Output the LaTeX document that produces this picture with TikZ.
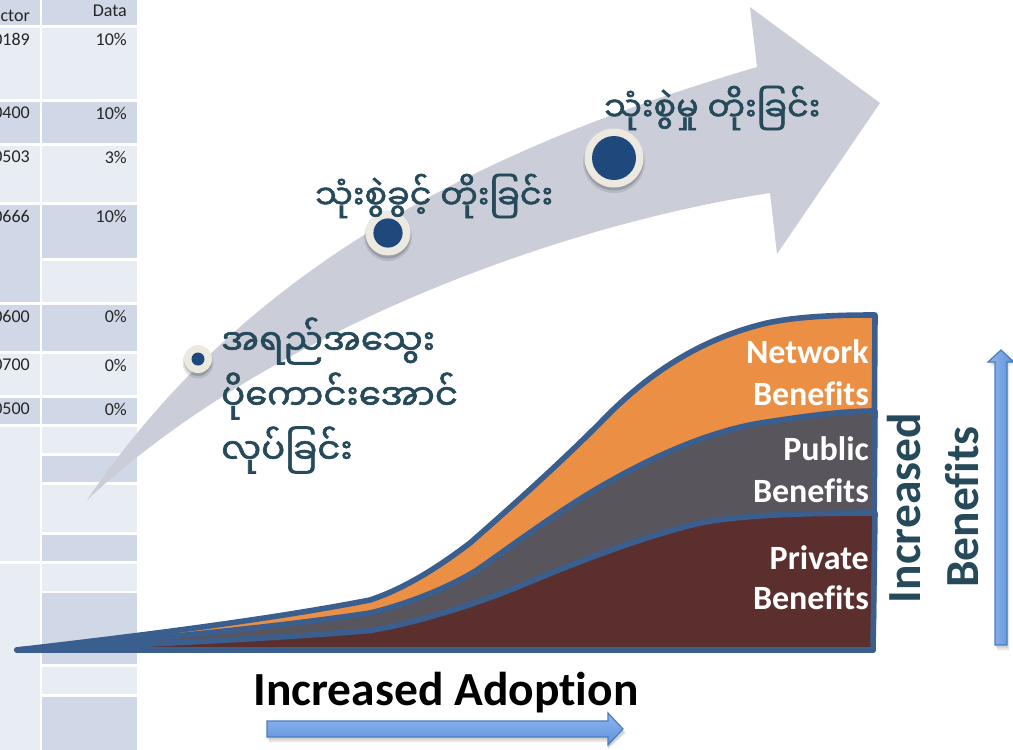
\documentclass[tikz,border=0pt]{standalone}
\usepackage{fontspec}
\setmainfont{Carlito}[Ligatures={NoCommon,NoRare,NoDiscretionary}]
\newfontfamily\myan[Script=Myanmar,FakeBold=1.8]{Noto Sans Myanmar UI}
\usetikzlibrary{arrows.meta}
\definecolor{cellL}{HTML}{E8EDF4}
\definecolor{cellD}{HTML}{D0D8E8}
\definecolor{arrowgray}{HTML}{CBCED9}
\definecolor{inkteal}{HTML}{264A5A}
\definecolor{bulletout}{HTML}{ECEAE0}
\definecolor{bulletin}{HTML}{1F497D}
\definecolor{edgeblue}{HTML}{3A5F8F}
\definecolor{orangeL}{HTML}{EB8F45}
\definecolor{grayL}{HTML}{58555C}
\definecolor{maroonL}{HTML}{5C2F2F}
\definecolor{arrowtop}{HTML}{8FB6EC}
\definecolor{arrowbot}{HTML}{5E92DC}
\definecolor{arrowedge}{HTML}{4A7EBB}
\tikzset{
  myantext/.style={inner sep=0pt,text=inkteal,font=\myan\fontsize{35.5}{36}\selectfont,anchor=west},
  myansmall/.style={myantext,font=\myan\fontsize{33.5}{34}\selectfont},
  whitelabel/.style={inner sep=0pt,text=white,font=\bfseries\fontsize{34}{34}\selectfont,anchor=east},
  axislabel/.style={inner sep=0pt,font=\bfseries\fontsize{47.5}{47.5}\selectfont},
  celltext/.style={inner sep=0pt,text=black!85,font=\fontsize{18}{18}\selectfont,anchor=east},
  layer/.style={draw=edgeblue,line width=5.6pt,line join=round,line cap=round},
  bigarrow/.style={draw=arrowedge,line width=1.2pt,line join=miter},
  softshadow/.style={black,opacity=.09},
}
\newcommand{\bulletdot}[4]{%
  \fill[black,opacity=.10] (#1,#2+4) circle (#3+1.5);
  \fill[black,opacity=.15] (#1,#2+3) circle (#3);
  \fill[bulletout] (#1,#2) circle (#3);
  \fill[bulletin] (#1,#2) circle (#4);
}
\begin{document}
\begin{tikzpicture}[x=1pt,y=-1pt]
\useasboundingbox (0,0) rectangle (1013,750);
% table, first column
\foreach \a/\b/\c in {0/25/cellD,28/99/cellL,102/143/cellD,146/202/cellL,205/302/cellD,305/351/cellD,354/395/cellL,398/424/cellD,427/561/cellL,564/750/cellL}
  \fill[\c] (0,\a) rectangle (39.5,\b);
% table, second column
\foreach \a/\b/\c in {0/25/cellD,28/99/cellL,102/143/cellD,146/202/cellL,205/258/cellD,261/302/cellL,305/351/cellD,354/395/cellL,398/424/cellD,427/453/cellL,456/482/cellD,485/532/cellL,535/561/cellD,564/591/cellL,593/664/cellD,667/694/cellL,697/750/cellD}
  \fill[\c] (42,\a) rectangle (137,\b);
\begin{scope}
\clip (0,0) rectangle (42,750);
\node[celltext] (c0) at (30,16) {ctor};
\node[celltext] (c1) at (30,39) {0189};
\node[celltext] (c2) at (30,113) {0400};
\node[celltext] (c3) at (30,157) {0503};
\node[celltext] (c4) at (30,216) {0666};
\node[celltext] (c5) at (30,316) {0600};
\node[celltext] (c6) at (30,365) {0700};
\node[celltext] (c7) at (30,409) {0500};
\end{scope}
\node[celltext] (d0) at (127,11) {Data};
\node[celltext] (d1) at (127,39) {10\%};
\node[celltext] (d2) at (127,113) {10\%};
\node[celltext] (d3) at (127,157) {3\%};
\node[celltext] (d4) at (127,216) {10\%};
\node[celltext] (d5) at (127,316) {0\%};
\node[celltext] (d6) at (127,365) {0\%};
\node[celltext] (d7) at (127,409) {0\%};
% big curved arrow
\fill[arrowgray] (87,500) .. controls (230,290) and (440,160) .. (757,67)
  -- (750,7) -- (880,103) -- (777,254) -- (770,193)
  .. controls (560,225) and (270,330) .. (87,500) -- cycle;
\bulletdot{198}{359}{14}{6.5}
\bulletdot{388}{233}{22.5}{14.6}
\bulletdot{614}{158}{29.5}{22}
\node[myansmall] (t1) at (315,196) {သုံးစွဲခွင့် တိုးခြင်း};
\node[myansmall] (t2) at (604,108) {သုံးစွဲမှု တိုးခြင်း};
\node[myantext] (t3a) at (221,341) {အရည်အသွေး};
\node[myantext] (t3b) at (221,396) {ပိုကောင်းအောင်};
\node[myantext] (t3c) at (221,450) {လုပ်ခြင်း};
% layered benefits chart
\draw[layer,fill=orangeL] (17,650) .. controls (137,636) and (267,620) .. (370,600)
  .. controls (400,590) and (432,572) .. (470,543)
  .. controls (510,508) and (558,465) .. (600,423)
  .. controls (642,379) and (695,340) .. (767,323)
  .. controls (800,316) and (840,315) .. (875,315)
  -- (873,650) -- cycle;
\draw[layer,fill=grayL] (17,650) .. controls (140,640) and (270,628) .. (370,613)
  .. controls (400,606) and (445,590) .. (477,570)
  .. controls (510,547) and (560,510) .. (600,487)
  .. controls (650,458) and (710,430) .. (767,422)
  .. controls (800,417) and (840,411) .. (875,411)
  -- (873,650) -- cycle;
\draw[layer,fill=maroonL] (17,650) .. controls (130,645) and (270,639) .. (370,630.5)
  .. controls (410,624) and (470,607) .. (527,583)
  .. controls (570,565) and (640,537) .. (700,523)
  .. controls (745,514) and (820,513) .. (875,513)
  -- (873,650) -- cycle;
\node[whitelabel] (n1) at (869,352) {Network};
\node[whitelabel] (n2) at (869,394) {Benefits};
\node[whitelabel] (n3) at (869,449) {Public};
\node[whitelabel] (n4) at (869,491) {Benefits};
\node[whitelabel] (n5) at (869,558) {Private};
\node[whitelabel] (n6) at (869,598) {Benefits};
\node[axislabel,text=black] (xl) at (446,692.5) {Increased Adoption};
\node[axislabel,text=inkteal,rotate=90] (yl1) at (904,508) {Increased};
\node[axislabel,text=inkteal,rotate=90] (yl2) at (962,507) {Benefits};
% horizontal arrow
\fill[softshadow] (267,724) -- (608,724) -- (608,716) -- (625,732) -- (608,748) -- (608,740) -- (267,740) -- cycle;
\fill[softshadow] (269,726) -- (608,726) -- (608,718) -- (626,733) -- (608,749) -- (608,742) -- (269,742) -- cycle;
\shade[top color=arrowtop,bottom color=arrowbot] (267,721) -- (608,721) -- (608,713) -- (623,729) -- (608,745) -- (608,737) -- (267,737) -- cycle;
\draw[bigarrow] (267,721) -- (608,721) -- (608,713) -- (623,729) -- (608,745) -- (608,737) -- (267,737) -- cycle;
% vertical arrow
\fill[softshadow] (996,364) -- (989,364) -- (1002,352) -- (1013,362) -- (1008,364) -- (1008,648) -- (996,648) -- cycle;
\fill[softshadow] (997,366) -- (990,366) -- (1003,354) -- (1013,364) -- (1009,366) -- (1009,650) -- (997,650) -- cycle;
\shade[left color=arrowtop,right color=arrowbot] (995,362) -- (988,362) -- (1001,350) -- (1014,362) -- (1007,362) -- (1007,645) -- (995,645) -- cycle;
\draw[bigarrow] (995,362) -- (988,362) -- (1001,350) -- (1014,362) -- (1007,362) -- (1007,645) -- (995,645) -- cycle;
\end{tikzpicture}
\end{document}
